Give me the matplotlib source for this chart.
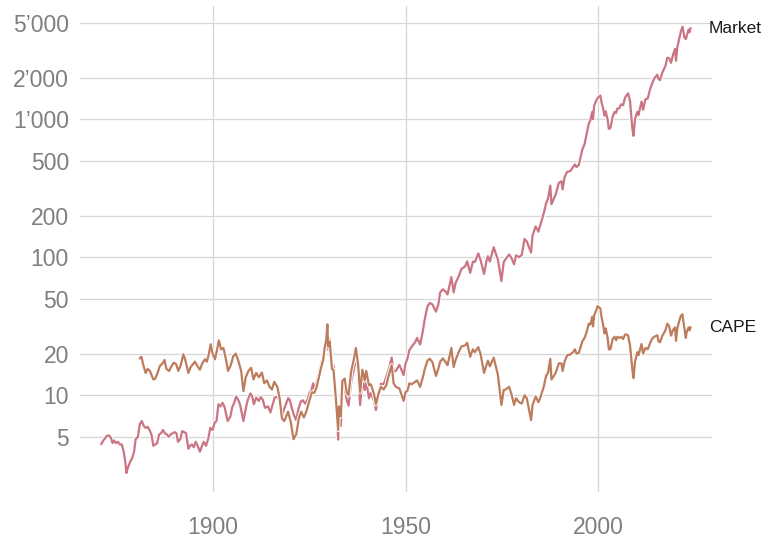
"""
Market index vs CAPE, log scale, labels at line ends
"""

import matplotlib.pyplot as plt
import matplotlib.patheffects as pe
import numpy as np

# data (year, value)
market_year = [
    1871.0, 1871.5, 1872.0, 1872.5, 1873.0, 1873.5, 1873.9, 1874.3, 1874.8, 1875.3,
    1875.8, 1876.3, 1876.8, 1877.2, 1877.5, 1877.9, 1878.5, 1879.0, 1879.5, 1879.9,
    1880.5, 1881.0, 1881.5, 1882.0, 1882.5, 1883.0, 1883.5, 1884.0, 1884.5, 1885.0,
    1885.5, 1886.0, 1886.5, 1887.0, 1887.5, 1888.0, 1888.5, 1889.0, 1889.5, 1890.0,
    1890.5, 1890.9, 1891.5, 1892.0, 1892.5, 1893.0, 1893.6, 1894.0, 1894.5, 1895.0,
    1895.5, 1896.0, 1896.6, 1897.0, 1897.6, 1898.2, 1898.8, 1899.3, 1899.9, 1900.4,
    1900.9, 1901.4, 1901.9, 1902.5, 1903.0, 1903.8, 1904.5, 1905.0, 1905.5, 1906.0,
    1906.5, 1907.0, 1907.9, 1908.5, 1909.0, 1909.7, 1910.2, 1910.6, 1911.2, 1911.9,
    1912.4, 1912.9, 1913.5, 1914.3, 1914.9, 1915.5, 1916.0, 1916.8, 1917.5, 1917.9,
    1918.5, 1919.5, 1919.9, 1920.5, 1921.0, 1921.6, 1922.2, 1922.8, 1923.3, 1923.9,
    1924.5, 1925.0, 1925.5, 1926.0, 1926.3, 1926.9, 1927.5, 1928.0, 1928.5, 1928.9,
    1929.3, 1929.7, 1929.9, 1930.3, 1930.9, 1931.3, 1931.9, 1932.5, 1932.7, 1933.2,
    1933.6, 1934.2, 1934.7, 1935.2, 1935.9, 1936.5, 1937.1, 1937.7, 1938.2, 1938.8,
    1939.4, 1939.8, 1940.5, 1941.0, 1941.9, 1942.3, 1943.0, 1943.6, 1944.3, 1945.0,
    1945.8, 1946.4, 1946.9, 1947.5, 1948.4, 1949.5, 1950.0, 1950.5, 1951.0, 1951.6,
    1952.5, 1953.0, 1953.8, 1954.5, 1955.0, 1955.7, 1956.3, 1957.0, 1957.9, 1958.5,
    1959.0, 1959.7, 1960.5, 1960.9, 1961.9, 1962.5, 1963.0, 1963.8, 1964.5, 1965.5,
    1966.0, 1966.8, 1967.5, 1968.0, 1968.9, 1969.5, 1970.4, 1971.0, 1971.4, 1971.9,
    1972.9, 1973.5, 1974.0, 1974.9, 1975.5, 1976.0, 1976.9, 1977.5, 1978.2, 1978.7,
    1979.5, 1980.2, 1980.9, 1981.5, 1982.6, 1983.0, 1983.8, 1984.5, 1985.0, 1985.9,
    1986.5, 1987.0, 1987.6, 1987.9, 1988.5, 1989.0, 1989.8, 1990.5, 1990.8, 1991.3,
    1992.0, 1992.8, 1993.5, 1994.0, 1994.4, 1995.0, 1995.9, 1996.5, 1997.0, 1997.6,
    1998.0, 1998.5, 1998.7, 1999.0, 1999.6, 1999.9, 2000.6, 2000.9, 2001.3, 2001.7,
    2002.0, 2002.5, 2002.8, 2003.2, 2003.8, 2004.3, 2004.7, 2005.0, 2005.5, 2006.0,
    2006.5, 2007.0, 2007.5, 2007.8, 2008.3, 2008.9, 2009.2, 2009.6, 2010.2, 2010.5,
    2011.3, 2011.7, 2012.3, 2012.9, 2013.5, 2014.0, 2014.6, 2015.4, 2015.7, 2016.1,
    2016.7, 2017.5, 2018.0, 2018.5, 2018.95, 2019.5, 2020.0, 2020.25, 2020.6, 2020.95,
    2021.5, 2021.95, 2022.45, 2022.8, 2023.0, 2023.5, 2023.8, 2024.0,
]
market_val = [
    4.44, 4.7, 4.9, 5.1, 5.1, 4.9, 4.5, 4.7, 4.5, 4.6,
    4.4, 4.4, 3.9, 3.3, 2.73, 3.0, 3.3, 3.5, 3.9, 4.8,
    5.0, 6.2, 6.5, 6.0, 5.8, 5.9, 5.6, 5.2, 4.3, 4.4,
    4.5, 5.2, 5.3, 5.6, 5.3, 5.2, 5.0, 5.2, 5.3, 5.4,
    5.3, 4.6, 4.8, 5.5, 5.4, 5.3, 4.1, 4.3, 4.4, 4.2,
    4.6, 4.3, 3.9, 4.2, 4.6, 4.3, 4.9, 5.8, 5.6, 6.3,
    6.5, 8.6, 8.3, 8.8, 8.2, 6.5, 7.0, 8.2, 8.8, 9.8,
    9.3, 8.6, 6.5, 8.0, 9.2, 10.3, 9.8, 8.6, 9.6, 9.1,
    9.7, 9.3, 8.1, 8.3, 7.5, 8.6, 9.6, 9.8, 8.8, 7.0,
    8.0, 9.5, 9.3, 8.0, 7.2, 6.6, 8.0, 9.0, 9.2, 8.7,
    9.2, 10.3, 10.8, 12.2, 11.0, 12.4, 14.2, 16.6, 18.5, 21.7,
    24.8, 31.3, 21.4, 25.5, 16.1, 16.4, 10.4, 4.77, 7.3, 6.0,
    11.2, 11.3, 9.3, 8.4, 12.6, 15.0, 18.1, 15.0, 8.5, 12.9,
    10.9, 12.7, 9.5, 10.4, 9.0, 7.8, 10.1, 12.1, 12.0, 13.5,
    16.0, 18.7, 14.8, 15.0, 16.6, 14.0, 16.9, 18.5, 21.2, 22.5,
    24.2, 26.0, 23.3, 29.2, 35.6, 44.0, 46.6, 45.4, 40.3, 45.2,
    55.6, 58.5, 56.0, 53.7, 71.7, 55.6, 65.0, 72.5, 82.0, 86.0,
    93.3, 77.1, 93.0, 92.2, 106.5, 95.0, 75.6, 93.5, 101.7, 93.0,
    118.0, 105.0, 96.0, 67.1, 92.0, 96.9, 104.6, 99.0, 88.8, 103.0,
    100.0, 104.0, 135.7, 130.0, 108.0, 144.0, 167.0, 153.0, 171.0, 208.0,
    245.0, 265.0, 330.0, 242.0, 265.0, 285.0, 345.0, 355.0, 310.0, 380.0,
    416.0, 420.0, 450.0, 470.0, 450.0, 465.0, 600.0, 660.0, 770.0, 930.0,
    980.0, 1130.0, 1000.0, 1250.0, 1380.0, 1420.0, 1485.0, 1330.0, 1200.0, 1060.0,
    1140.0, 990.0, 850.0, 860.0, 1040.0, 1130.0, 1110.0, 1190.0, 1200.0, 1280.0,
    1260.0, 1430.0, 1500.0, 1540.0, 1360.0, 860.0, 757.0, 1000.0, 1130.0, 1070.0,
    1340.0, 1170.0, 1390.0, 1410.0, 1640.0, 1800.0, 1970.0, 2100.0, 1950.0, 1920.0,
    2170.0, 2430.0, 2790.0, 2760.0, 2560.0, 2940.0, 3230.0, 2650.0, 3330.0, 3690.0,
    4300.0, 4670.0, 3900.0, 3800.0, 3970.0, 4450.0, 4270.0, 4550.0,
]

cape_year = [
    1881.0, 1881.4, 1881.9, 1882.5, 1883.0, 1883.6, 1884.5, 1885.0, 1885.6, 1886.2,
    1886.9, 1887.4, 1887.9, 1888.6, 1889.2, 1889.8, 1890.4, 1891.0, 1891.6, 1892.3,
    1892.8, 1893.6, 1894.2, 1894.8, 1895.3, 1895.8, 1896.6, 1897.2, 1897.9, 1898.4,
    1898.9, 1899.4, 1899.9, 1900.5, 1901.0, 1901.5, 1902.1, 1902.7, 1903.3, 1903.9,
    1904.6, 1905.3, 1905.9, 1906.5, 1907.3, 1907.9, 1908.5, 1909.2, 1909.9, 1910.5,
    1911.2, 1911.9, 1912.7, 1913.3, 1914.0, 1914.7, 1915.3, 1915.9, 1916.7, 1917.3,
    1917.9, 1918.5, 1919.5, 1920.2, 1920.9, 1921.6, 1922.3, 1922.9, 1923.6, 1924.3,
    1925.0, 1925.7, 1926.3, 1926.9, 1927.5, 1928.0, 1928.6, 1929.0, 1929.4, 1929.7,
    1929.9, 1930.3, 1930.9, 1931.3, 1931.9, 1932.5, 1932.7, 1933.2, 1933.6, 1934.2,
    1934.7, 1935.2, 1935.9, 1936.5, 1937.1, 1937.7, 1938.2, 1938.8, 1939.4, 1939.8,
    1940.5, 1941.0, 1941.9, 1942.3, 1943.0, 1943.6, 1944.3, 1945.0, 1945.8, 1946.4,
    1946.9, 1947.5, 1948.4, 1949.5, 1950.0, 1950.5, 1951.0, 1951.6, 1952.5, 1953.0,
    1953.8, 1954.5, 1955.0, 1955.7, 1956.3, 1957.0, 1957.9, 1958.5, 1959.0, 1959.7,
    1960.5, 1960.9, 1961.9, 1962.5, 1963.0, 1963.8, 1964.5, 1965.5, 1966.0, 1966.8,
    1967.5, 1968.0, 1968.9, 1969.5, 1970.4, 1971.0, 1971.4, 1971.9, 1972.9, 1973.5,
    1974.0, 1974.9, 1975.5, 1976.0, 1976.9, 1977.5, 1978.2, 1978.7, 1979.5, 1980.2,
    1980.9, 1981.5, 1982.6, 1983.0, 1983.8, 1984.5, 1985.0, 1985.9, 1986.5, 1987.0,
    1987.6, 1987.9, 1988.5, 1989.0, 1989.8, 1990.5, 1990.8, 1991.3, 1992.0, 1992.8,
    1993.5, 1994.0, 1994.4, 1995.0, 1995.9, 1996.5, 1997.0, 1997.6, 1998.0, 1998.5,
    1998.7, 1999.0, 1999.6, 1999.9, 2000.6, 2000.9, 2001.3, 2001.7, 2002.0, 2002.5,
    2002.8, 2003.2, 2003.8, 2004.3, 2004.7, 2005.0, 2005.5, 2006.0, 2006.5, 2007.0,
    2007.5, 2007.8, 2008.3, 2008.9, 2009.2, 2009.6, 2010.2, 2010.5, 2011.3, 2011.7,
    2012.3, 2012.9, 2013.5, 2014.0, 2014.6, 2015.4, 2015.7, 2016.1, 2016.7, 2017.5,
    2018.0, 2018.5, 2018.95, 2019.5, 2020.0, 2020.25, 2020.6, 2020.95, 2021.5, 2021.9,
    2022.45, 2022.8, 2023.0, 2023.5, 2023.8, 2024.0,
]
cape_val = [
    18.5, 19.0, 16.5, 14.5, 15.5, 15.0, 13.0, 13.2, 14.5, 16.3,
    17.0, 18.0, 15.5, 15.0, 16.2, 17.2, 16.8, 15.0, 16.5, 19.8,
    18.0, 14.5, 16.0, 16.8, 17.5, 16.5, 15.3, 17.0, 18.2, 17.5,
    19.8, 23.4, 20.0, 18.2, 21.0, 25.0, 21.5, 22.0, 18.5, 15.0,
    16.5, 19.3, 20.0, 18.0, 15.0, 10.7, 13.5, 15.0, 15.8, 13.0,
    14.5, 13.5, 14.6, 12.2, 12.8, 11.5, 11.0, 12.5, 11.5, 9.5,
    6.8, 6.5, 7.6, 6.4, 4.8, 5.2, 6.8, 7.6, 6.9, 7.7,
    9.1, 10.5, 10.4, 11.4, 13.5, 15.6, 18.0, 22.0, 25.0, 32.6,
    22.5, 24.5, 15.5, 15.2, 9.5, 5.6, 8.3, 7.0, 12.7, 13.2,
    10.5, 10.0, 15.0, 17.8, 22.0, 16.5, 10.5, 15.3, 12.8, 15.0,
    11.8, 12.0, 10.0, 8.6, 10.3, 11.5, 11.0, 11.8, 14.5, 16.5,
    12.2, 11.5, 11.2, 9.1, 10.5, 10.8, 12.2, 12.0, 12.5, 12.8,
    11.5, 13.5, 15.5, 17.8, 18.4, 17.3, 13.8, 15.5, 17.5, 18.5,
    17.2, 16.5, 22.0, 16.0, 18.0, 20.5, 22.5, 23.0, 24.0, 19.0,
    21.5, 20.5, 22.3, 19.8, 14.5, 16.5, 17.8, 16.2, 18.7, 16.0,
    14.0, 8.5, 10.9, 11.0, 11.5, 10.2, 8.5, 9.5, 8.9, 8.7,
    10.0, 9.5, 6.6, 8.5, 9.8, 8.9, 9.6, 11.5, 13.8, 14.5,
    18.3, 13.0, 13.8, 14.5, 17.0, 17.0, 15.0, 17.5, 19.5, 19.7,
    20.5, 21.5, 20.0, 20.2, 24.5, 26.0, 28.5, 33.0, 32.5, 37.0,
    31.5, 38.0, 41.5, 44.2, 42.5, 37.0, 32.5, 28.0, 30.5, 26.0,
    21.5, 21.5, 25.5, 26.5, 25.0, 26.5, 26.0, 26.5, 25.5, 27.5,
    27.5, 27.0, 23.0, 15.5, 13.3, 17.5, 20.5, 19.5, 23.5, 20.0,
    22.0, 21.5, 23.8, 25.5, 26.5, 27.2, 24.5, 24.2, 27.0, 29.5,
    33.0, 31.5, 27.0, 29.8, 31.0, 24.8, 30.5, 33.5, 37.5, 38.6,
    30.5, 26.0, 28.5, 31.0, 29.5, 31.0,
]

y_ticks = [5, 10, 20, 50, 100, 200, 500, 1000, 2000, 5000]
y_tick_labels = ["5", "10", "20", "50", "100", "200", "500",
                 "1\u2019000", "2\u2019000", "5\u2019000"]
x_ticks = [1900, 1950, 2000]

market_color = "#CB7484"
cape_color = "#BD7D5D"

plt.rcParams["font.family"] = ["Liberation Sans", "DejaVu Sans"]

fig = plt.figure(figsize=(7.67, 5.38), dpi=100)
ax = fig.add_axes([0.1043, 0.0855, 0.824, 0.9033])

halo = [pe.Stroke(linewidth=3.0, foreground="white"), pe.Normal()]
ax.plot(market_year, market_val, color=market_color, lw=1.6, path_effects=halo)
ax.plot(cape_year, cape_val, color=cape_color, lw=1.6, path_effects=halo)

ax.set_yscale("log")
ax.set_xlim(1865.45, 2029.6)
ax.set_ylim(1.99, 6600)

ax.set_yticks(y_ticks)
ax.set_yticklabels(y_tick_labels)
ax.yaxis.set_minor_locator(plt.NullLocator())
ax.set_xticks(x_ticks)
ax.set_xticklabels([str(x) for x in x_ticks])

ax.tick_params(axis="both", length=0, labelsize=16.5, labelcolor="#7f7f7f")
ax.tick_params(axis="x", pad=17)
ax.tick_params(axis="y", pad=8)

ax.grid(True, color="#d6d6d6", lw=0.9)
ax.set_axisbelow(True)
for s in ax.spines.values():
    s.set_visible(False)

# series labels at the line ends
ax.text(2028.8, market_val[-1], "Market", va="center", ha="left",
        fontsize=12.5, color="#1a1a1a", clip_on=False)
ax.text(2028.8, cape_val[-1], "CAPE", va="center", ha="left",
        fontsize=12.5, color="#1a1a1a", clip_on=False)

fig.savefig("out.png", dpi=100)
